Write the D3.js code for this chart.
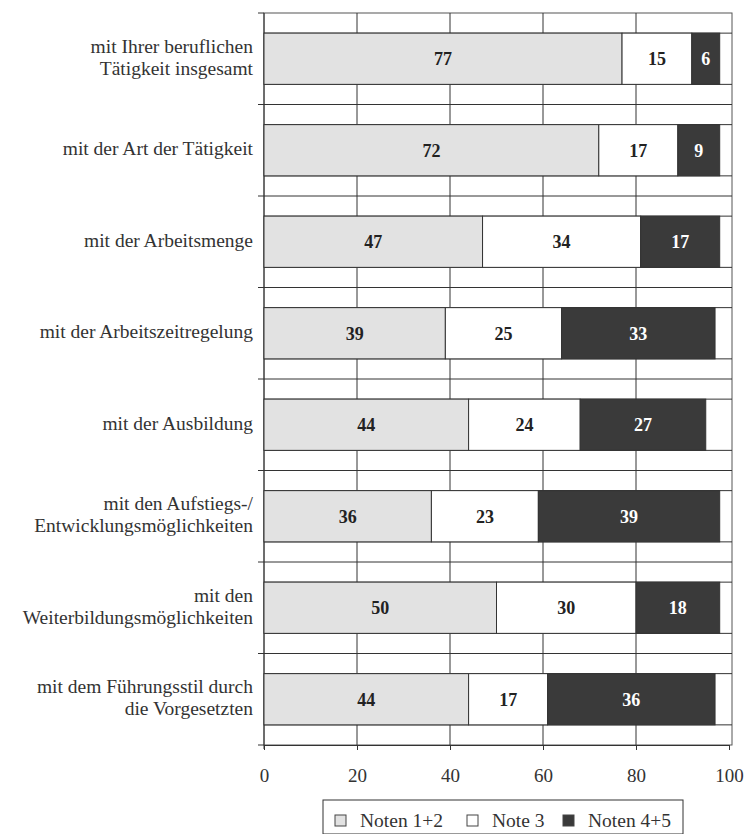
<!DOCTYPE html>
<html>
<head>
<meta charset="utf-8">
<script src="https://cdn.jsdelivr.net/npm/d3@7"></script>
<style>
  body { margin: 0; background: #fff; }
  svg text { font-family: "Liberation Serif", "DejaVu Serif", serif; }
</style>
</head>
<body>
<div id="chart"></div>
<script>
// Zufriedenheit ... (Anteile in %)
var categories = [
  ["mit Ihrer beruflichen", "Tätigkeit insgesamt"],
  ["mit der Art der Tätigkeit"],
  ["mit der Arbeitsmenge"],
  ["mit der Arbeitszeitregelung"],
  ["mit der Ausbildung"],
  ["mit den Aufstiegs-/", "Entwicklungsmöglichkeiten"],
  ["mit den", "Weiterbildungsmöglichkeiten"],
  ["mit dem Führungsstil durch", "die Vorgesetzten"]
];
var noten12 = [77, 72, 47, 39, 44, 36, 50, 44];
var note3   = [15, 17, 34, 25, 24, 23, 30, 17];
var noten45 = [6, 9, 17, 33, 27, 39, 18, 36];
var seriesNames = ["Noten 1+2", "Note 3", "Noten 4+5"];
var xTicks = [0, 20, 40, 60, 80, 100];

var W = 744, H = 834;
// Plotbereich (nicht "top" nennen -> window.top)
var pL = 264, pR = 729, pT = 13, pB = 745;

var svg = d3.select("#chart").append("svg")
  .attr("width", W).attr("height", H);

var x = d3.scaleLinear().domain([0, 100]).range([pL, pR]);
var y = d3.scaleBand()
  .domain(d3.range(categories.length))
  .range([pT, pB])
  .paddingInner(0.44).paddingOuter(0.22);
var step = y.step();

var fills = ["#e2e2e2", "#ffffff", "#3a3a3a"];
var textCol = ["#222", "#222", "#fff"];

// Zeilen aufbauen
var rows = categories.map(function(c, i) {
  var vals = [noten12[i], note3[i], noten45[i]];
  var acc = 0;
  return vals.map(function(v, k) {
    var s = { row: i, k: k, v: v, x0: acc, x1: acc + v };
    acc += v;
    return s;
  });
});

var g = svg.append("g");

// Rahmen
g.append("rect")
  .attr("x", pL).attr("y", pT)
  .attr("width", pR - pL + 3).attr("height", pB - pT)
  .attr("fill", "none").attr("stroke", "#555").attr("stroke-width", 1);

// vertikale Gitterlinien
g.selectAll(".vgrid").data([20, 40, 60, 80]).enter().append("line")
  .attr("x1", function(d) { return x(d); }).attr("x2", function(d) { return x(d); })
  .attr("y1", pT).attr("y2", pB)
  .attr("stroke", "#333").attr("stroke-width", 1);

// horizontale Linien: Kategoriegrenzen + Balkenkanten
var hlines = [];
categories.forEach(function(c, i) {
  var b0 = y(i) - y.paddingInner() * step / 2;
  if (i > 0) hlines.push(b0);
  hlines.push(y(i));
  hlines.push(y(i) + y.bandwidth());
});
g.selectAll(".hgrid").data(hlines).enter().append("line")
  .attr("x1", pL).attr("x2", pR + 3)
  .attr("y1", function(d) { return d; }).attr("y2", function(d) { return d; })
  .attr("stroke", "#333").attr("stroke-width", 1);

// Achse links mit Ticks an den Kategoriegrenzen
var bounds = d3.range(categories.length + 1).map(function(i) { return pT + i * step; });
g.append("line")
  .attr("x1", pL).attr("x2", pL).attr("y1", pT).attr("y2", pB + 4)
  .attr("stroke", "#333");
g.selectAll(".ytick").data(bounds).enter().append("line")
  .attr("x1", pL - 6).attr("x2", pL)
  .attr("y1", function(d) { return d; }).attr("y2", function(d) { return d; })
  .attr("stroke", "#333");

// Balken
var segs = g.selectAll(".seg").data(d3.merge(rows)).enter().append("g");
segs.append("rect")
  .attr("x", function(d) { return x(d.x0); })
  .attr("y", function(d) { return y(d.row); })
  .attr("width", function(d) { return x(d.x1) - x(d.x0); })
  .attr("height", y.bandwidth())
  .attr("fill", function(d) { return fills[d.k]; })
  .attr("stroke", "#333").attr("stroke-width", 1);
segs.append("text")
  .attr("x", function(d) { return (x(d.x0) + x(d.x1)) / 2; })
  .attr("y", function(d) { return y(d.row) + y.bandwidth() / 2; })
  .attr("dy", "0.35em")
  .attr("text-anchor", "middle")
  .attr("font-size", 18).attr("font-weight", "bold")
  .attr("fill", function(d) { return textCol[d.k]; })
  .text(function(d) { return d.v; });

// x-Achse
var xAxis = svg.append("g")
  .attr("transform", "translate(0," + pB + ")")
  .call(d3.axisBottom(x).tickValues(xTicks).tickSize(5).tickPadding(19));
xAxis.select(".domain").attr("stroke", "#333");
xAxis.selectAll(".tick line").attr("stroke", "#333");
xAxis.selectAll(".tick text")
  .attr("font-family", "Liberation Serif, serif")
  .attr("font-size", 19).attr("fill", "#333");

// Kategoriebeschriftungen
var lab = svg.selectAll(".lab").data(categories).enter().append("text")
  .attr("text-anchor", "end")
  .attr("font-size", 19.5).attr("fill", "#333")
  .attr("transform", function(d, i) {
    return "translate(" + (pL - 11) + "," + (y(i) + y.bandwidth() / 2 - 2) + ")";
  });
lab.selectAll("tspan").data(function(d) { return d; }).enter().append("tspan")
  .attr("x", 0)
  .attr("y", function(t, j, arr) { return (j - (arr.length - 1) / 2) * 22; })
  .attr("dy", "0.35em")
  .text(function(t) { return t; });

// Legende
var leg = svg.append("g").attr("transform", "translate(323,800)");
leg.append("rect").attr("x", 0).attr("y", 0).attr("width", 360).attr("height", 34)
  .attr("fill", "#fff").attr("stroke", "#333");
var legX = [12, 144, 240];
seriesNames.forEach(function(n, k) {
  leg.append("rect").attr("x", legX[k]).attr("y", 15).attr("width", 11).attr("height", 11)
    .attr("fill", fills[k]).attr("stroke", "#444");
  leg.append("text").attr("x", legX[k] + 25).attr("y", 27)
    .attr("font-size", 19.5).attr("fill", "#333").text(n);
});
</script>
</body>
</html>
